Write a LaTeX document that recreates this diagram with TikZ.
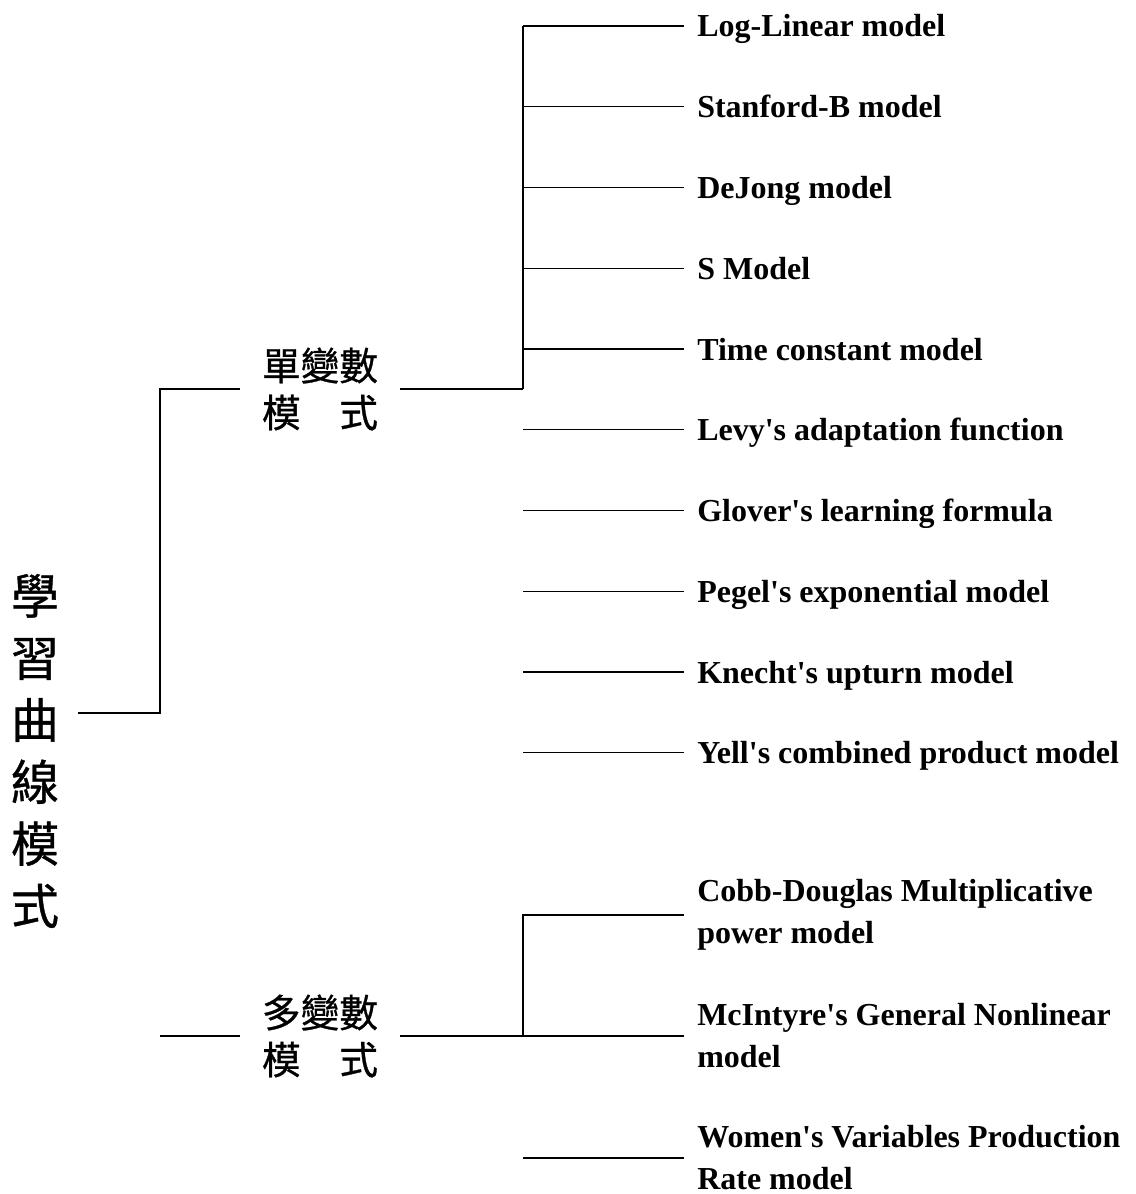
\documentclass[tikz,border=0pt]{standalone}
\usepackage{fontspec}
\setmainfont{Liberation Serif}[Ligatures=TeXOff]
\newfontfamily\cjk{Noto Sans CJK TC}[FakeBold=0.8]
\usetikzlibrary{positioning}

\begin{document}
\begin{tikzpicture}[x=0.75pt,y=-0.75pt]
        % Define the styles
        \tikzstyle{link}=[line width=0.8pt]
        \tikzstyle{title}=[font=\cjk\fontsize{36}{46.5}\selectfont, align=center, inner xsep=14pt, inner ysep=0pt]
        \tikzstyle{group}=[font=\cjk\fontsize{29}{35.25}\selectfont, align=center, inner xsep=16.5pt, inner ysep=0pt]
        \tikzstyle{model}=[font=\bfseries\fontsize{24}{31.5}\selectfont, align=left, inner xsep=9.75pt, inner ysep=0pt]

        \useasboundingbox (0,0) rectangle (1135,1194);

        % Root and the two groups
        \node (root)[title] at (35,751) {學\\習\\曲\\線\\模\\式};
        \coordinate (rootjoint) at (160,713);
        \node (single)[group] at (320,389) {單變數\\模　式};
        \node (multi)[group] at (320,1036) {多變數\\模　式};
        \coordinate (multistub) at (160,1036);

        \draw[link] (root.east |- rootjoint) -- (rootjoint) |- (single.west);
        \draw[link] (multistub) -- (multi.west);

        % Single-variable models
        \coordinate (sjoint) at (523,389);
        \draw[link] (single.east) -- (sjoint);
        \foreach \txt [count=\i from 0] in {{Log-Linear model}, {Stanford-B model}, {DeJong model}, {S Model},
            {Time constant model}, {Levy's adaptation function}, {Glover's learning formula},
            {Pegel's exponential model}, {Knecht's upturn model}, {Yell's combined product model}}
        {
            \coordinate (b\i) at (523,26+80.75*\i);
            \node (m\i)[model, anchor=base west] at (684,37+80.75*\i) {\txt};
            \draw[link] (b\i) -- (b\i -| m\i.west);
        }
        \draw[link] (sjoint) -- (b0);

        % Multi-variable models
        \coordinate (mjoint) at (523,1036);
        \coordinate (c1b) at (523,915);
        \coordinate (c3b) at (523,1158);
        \node (c1)[model, anchor=west] at (684,915) {Cobb-Douglas Multiplicative\\power model};
        \node (c2)[model, anchor=west] at (684,1036) {McIntyre's General Nonlinear\\model};
        \node (c3)[model, anchor=west] at (684,1158) {Women's Variables Production\\Rate model};

        \draw[link] (multi.east) -- (mjoint) -- (c2.west);
        \draw[link] (mjoint) -- (c1b) -- (c1.west);
        \draw[link] (c3b) -- (c3.west);
    \end{tikzpicture}
\end{document}
